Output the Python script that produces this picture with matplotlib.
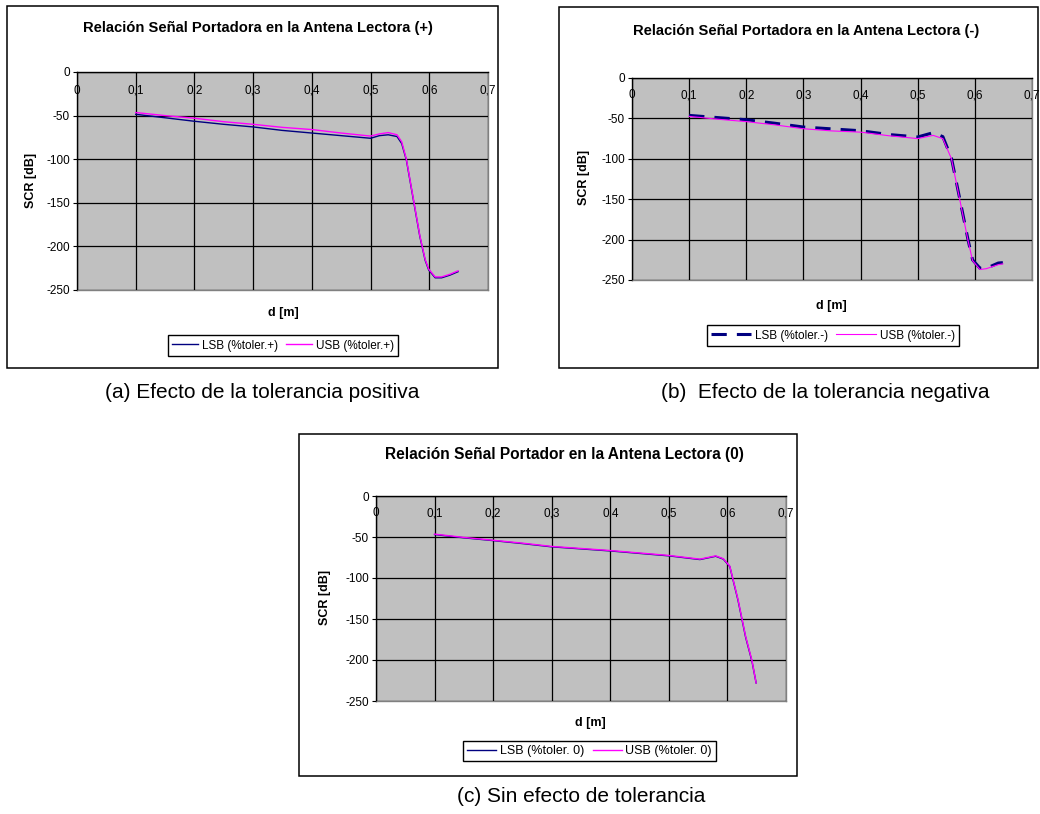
"""Tres gráficas SCR vs distancia (efecto de la tolerancia)."""

import matplotlib
matplotlib.use("Agg")
import matplotlib.pyplot as plt
from matplotlib.patches import Rectangle

plt.rcParams["font.family"] = ["Liberation Sans", "DejaVu Sans"]

_W, _H = 1040, 814

# --- datos ---
x_pos = [0.1, 0.15, 0.2, 0.25, 0.3, 0.35, 0.4, 0.45, 0.5, 0.515, 0.53, 0.545,
         0.553, 0.561, 0.573, 0.584, 0.593, 0.599, 0.61, 0.621, 0.635, 0.649]
lsb_pos = [-48.5, -52.5, -56.5, -60, -63, -67, -70, -73, -76, -73, -72, -74,
           -82, -101, -147, -189, -216, -227, -236, -236, -233, -229]
usb_pos = [-46.5, -50, -53, -57, -60, -63.5, -66, -70, -73.5, -71, -69.5, -72,
           -80, -100, -146, -188, -215, -226, -235, -235, -232, -228]

x_neg = [0.1, 0.15, 0.2, 0.25, 0.3, 0.35, 0.4, 0.45, 0.5, 0.527, 0.544, 0.559,
         0.574, 0.588, 0.596, 0.609, 0.62, 0.641, 0.649]
lsb_neg = [-46.3, -49, -51.7, -56, -60.7, -63, -65.3, -70, -73, -67.7, -72.6,
           -99, -151, -200, -225, -235.5, -235.5, -229, -228.5]
usb_neg = [-47.5, -51, -54, -58, -62.8, -65.5, -67, -71.5, -75, -71, -75,
           -100, -152, -201, -226, -237, -236, -231, -230]

x_cero = [0.1, 0.15, 0.2, 0.25, 0.3, 0.35, 0.4, 0.45, 0.5, 0.553, 0.58, 0.593,
          0.604, 0.618, 0.631, 0.642, 0.649]
lsb_cero = [-47, -51, -54.4, -58, -62, -64.5, -67, -70, -73, -77.5, -73.5, -77,
            -86, -127, -172, -202, -228]
usb_cero = [-46.5, -50.5, -54, -57.5, -61.5, -64, -66.5, -69.5, -72.5, -77, -73,
            -76.5, -85.5, -126, -171, -201, -228]

x_ticks = [0, 0.1, 0.2, 0.3, 0.4, 0.5, 0.6, 0.7]
x_tick_labels = ["0", "0,1", "0,2", "0,3", "0,4", "0,5", "0,6", "0,7"]
y_ticks = [0, -50, -100, -150, -200, -250]

NAVY = "#000080"
MAGENTA = "#FF00FF"
GRIS = "#C0C0C0"


def fx(x):
    return x / _W


def fy(y):
    return 1 - y / _H


def draw_panel(fig, frame, plot, title, title_xy, ylab_xy, xlab_xy, leg_xy,
               x, lsb, usb, labels, dashed=False, title_size=10.6,
               leg_size=8.5, handle_len=2.2):
    """Dibuja un recuadro tipo Excel con su gráfica."""
    x0, y0, x1, y1 = frame
    fig.add_artist(Rectangle((fx(x0), fy(y1)), fx(x1 - x0), (y1 - y0) / _H,
                             transform=fig.transFigure, fill=False,
                             edgecolor="black", lw=1.1))

    px0, py0, px1, py1 = plot
    ax = fig.add_axes([fx(px0), fy(py1), fx(px1 - px0), (py1 - py0) / _H])
    ax.set_facecolor(GRIS)
    ax.set_xlim(0, 0.7)
    ax.set_ylim(-250, 0)

    ax.set_yticks(y_ticks)
    ax.set_yticklabels([str(v) for v in y_ticks], fontsize=8.5)
    ax.set_xticks(x_ticks)
    ax.tick_params(axis="x", length=0, labelbottom=False)
    ax.tick_params(axis="y", direction="out", length=3, width=0.8, pad=2)
    ax.grid(True, color="black", lw=0.9)
    ax.set_axisbelow(False)

    for s in ("top", "left"):
        ax.spines[s].set_color("black")
        ax.spines[s].set_linewidth(1.0)
    for s in ("right", "bottom"):
        ax.spines[s].set_color("#808080")
        ax.spines[s].set_linewidth(1.0)

    # etiquetas del eje x dentro del área, bajo el eje en y=0
    for xv, lab in zip(x_ticks, x_tick_labels):
        ax.text(xv, 1 - 0.085, lab, transform=ax.get_xaxis_transform(),
                ha="center", va="center", fontsize=8.5, zorder=2)

    if dashed:
        l1, = ax.plot(x, lsb, color=NAVY, lw=2.2, dashes=(5, 3.3), zorder=4,
                      label=labels[0])
        l2, = ax.plot(x, usb, color=MAGENTA, lw=0.8, zorder=5, label=labels[1])
    else:
        l1, = ax.plot(x, lsb, color=NAVY, lw=1.0, zorder=4, label=labels[0])
        l2, = ax.plot(x, usb, color=MAGENTA, lw=1.0, zorder=5, label=labels[1])

    fig.text(fx(title_xy[0]), fy(title_xy[1]), title, ha="center", va="center",
             fontsize=title_size, fontweight="bold")
    fig.text(fx(ylab_xy[0]), fy(ylab_xy[1]), "SCR [dB]", ha="center",
             va="center", rotation=90, fontsize=9, fontweight="bold")
    fig.text(fx(xlab_xy[0]), fy(xlab_xy[1]), "d [m]", ha="center", va="center",
             fontsize=9, fontweight="bold")

    leg = ax.legend(handles=[l1, l2], loc="center",
                    bbox_to_anchor=(fx(leg_xy[0]), fy(leg_xy[1])),
                    bbox_transform=fig.transFigure, ncol=2, fontsize=leg_size,
                    frameon=True, fancybox=False, edgecolor="black",
                    framealpha=1, borderpad=0.35, handlelength=handle_len,
                    handletextpad=0.3, columnspacing=0.7)
    leg.get_frame().set_linewidth(1.0)
    return ax


fig = plt.figure(figsize=(_W / 100, _H / 100), dpi=100, facecolor="white")

draw_panel(fig, (7, 6, 498, 368), (77, 72, 488, 290),
           "Relación Señal Portadora en la Antena Lectora (+)",
           (258, 28), (31, 180), (283, 313), (283, 345.5),
           x_pos, lsb_pos, usb_pos, ("LSB (%toler.+)", "USB (%toler.+)"))

draw_panel(fig, (559, 7, 1038, 368), (632, 78, 1032, 280),
           "Relación Señal Portadora en la Antena Lectora (-)",
           (806, 31), (584, 177), (831, 306), (833, 335.5),
           x_neg, lsb_neg, usb_neg, ("LSB (%toler.-)", "USB (%toler.-)"),
           dashed=True, handle_len=3.4)

draw_panel(fig, (299, 434, 797, 776), (376, 496, 786, 701),
           "Relación Señal Portador en la Antena Lectora (0)",
           (564, 454), (325, 597), (590, 723), (589.5, 751),
           x_cero, lsb_cero, usb_cero, ("LSB (%toler. 0)", "USB (%toler. 0)"),
           title_size=11.2, leg_size=9, handle_len=2.3)

# Pies de figura
fig.text(fx(262), fy(393), "(a) Efecto de la tolerancia positiva",
         ha="center", va="center", fontsize=15)
fig.text(fx(825), fy(393), "(b)  Efecto de la tolerancia negativa",
         ha="center", va="center", fontsize=15)
fig.text(fx(581), fy(797), "(c) Sin efecto de tolerancia",
         ha="center", va="center", fontsize=15)

fig.savefig("out.png", dpi=100, facecolor="white")
plt.close(fig)
